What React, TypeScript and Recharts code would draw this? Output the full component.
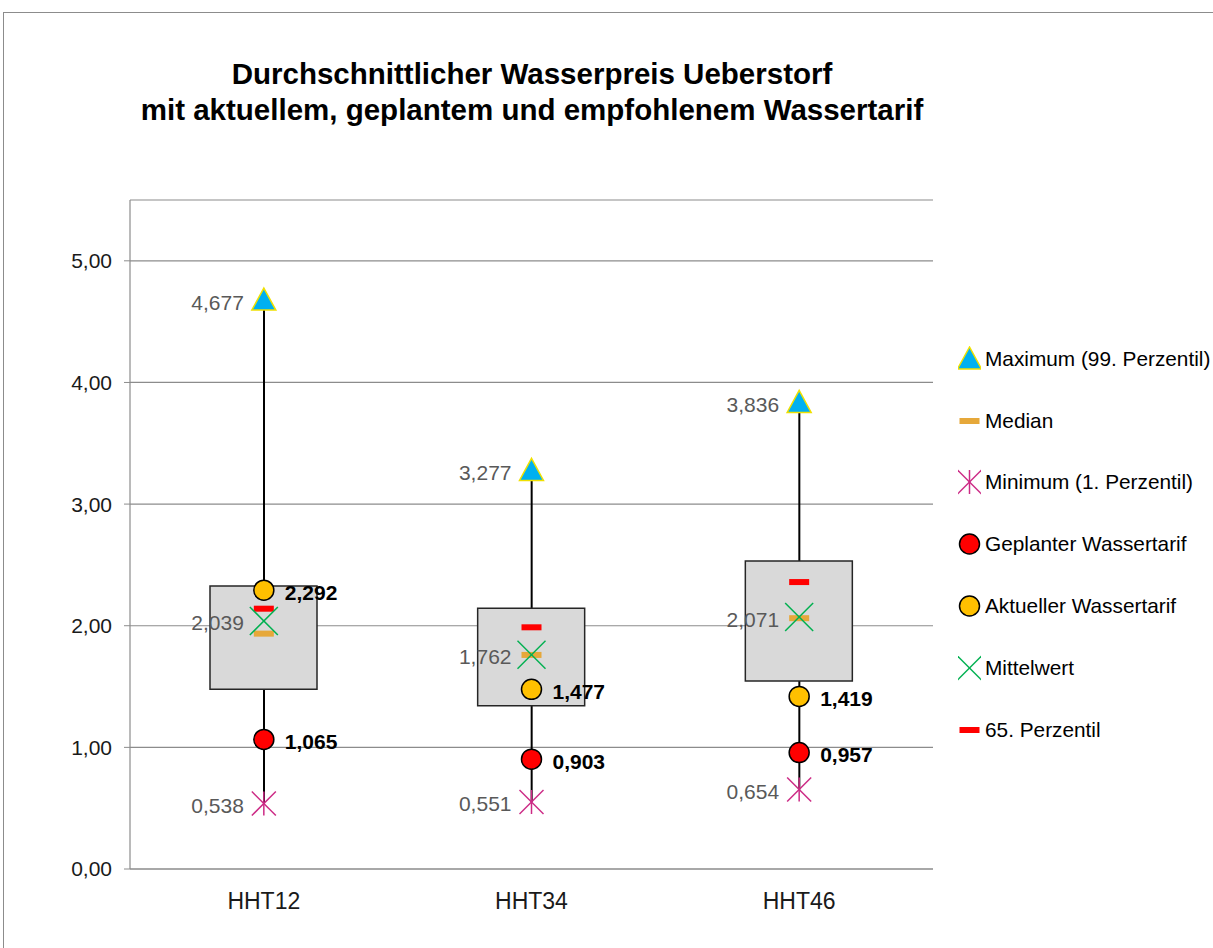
import React from 'react';
import { ComposedChart, Bar, Line, XAxis, YAxis, CartesianGrid } from 'recharts';

const categories = ['HHT12', 'HHT34', 'HHT46'];
const maxima = [4.677, 3.277, 3.836];
const minima = [0.538, 0.551, 0.654];
const means = [2.039, 1.762, 2.071];
const medians = [1.935, 1.76, 2.062];
const p65 = [2.14, 1.987, 2.359];
const q1 = [1.478, 1.343, 1.546];
const q3 = [2.327, 2.143, 2.533];
const planned = [1.065, 0.903, 0.957];
const current = [2.292, 1.477, 1.419];
const yTicks = [0, 1, 2, 3, 4, 5];

const FONT = '"Liberation Sans", Arial, sans-serif';
const GRID = '#8c8c8c';

const data = categories.map((cat, i) => ({
  cat,
  whisker: [minima[i], maxima[i]],
  box: [q1[i], q3[i]],
  max: maxima[i],
  min: minima[i],
  mean: means[i],
  median: medians[i],
  p65: p65[i],
  planned: planned[i],
  current: current[i],
}));

type Kind = 'max' | 'median' | 'min' | 'planned' | 'current' | 'mean' | 'p65';

const fmt = (v: number) => v.toFixed(3).replace('.', ',');

const Marker = ({ kind, cx, cy }: { kind: Kind; cx: number; cy: number }) => {
  switch (kind) {
    case 'max':
      return (
        <polygon
          points={`${cx},${cy - 12} ${cx - 12},${cy + 10} ${cx + 12},${cy + 10}`}
          fill="#00B0F0"
          stroke="#F0E000"
          strokeWidth={1.5}
        />
      );
    case 'median':
      return <rect x={cx - 10} y={cy - 3} width={20} height={6} fill="#E6A83A" />;
    case 'p65':
      return <rect x={cx - 10} y={cy - 3} width={20} height={6} fill="#FF0000" />;
    case 'mean':
      return (
        <g stroke="#00B050" strokeWidth={1.5}>
          <line x1={cx - 14} y1={cy - 14} x2={cx + 14} y2={cy + 14} />
          <line x1={cx - 14} y1={cy + 14} x2={cx + 14} y2={cy - 14} />
        </g>
      );
    case 'min':
      return (
        <g stroke="#CC2A85" strokeWidth={1.5}>
          <line x1={cx - 12} y1={cy - 12} x2={cx + 12} y2={cy + 12} />
          <line x1={cx - 12} y1={cy + 12} x2={cx + 12} y2={cy - 12} />
          <line x1={cx} y1={cy - 12} x2={cx} y2={cy + 12} />
        </g>
      );
    case 'planned':
      return <circle cx={cx} cy={cy} r={10} fill="#FF0000" stroke="#000" strokeWidth={1.5} />;
    case 'current':
      return <circle cx={cx} cy={cy} r={10} fill="#FFC000" stroke="#000" strokeWidth={1.5} />;
  }
  return null;
};

const LEFT_LABELS: Kind[] = ['max', 'mean', 'min'];
const RIGHT_LABELS: Kind[] = ['planned', 'current'];

const renderDot = (kind: Kind) => (p: any) => {
  const { cx, cy, value, index } = p;
  return (
    <g key={`${kind}-${index}`}>
      <Marker kind={kind} cx={cx} cy={cy} />
      {LEFT_LABELS.includes(kind) && (
        <text x={cx - 20} y={cy + 2} textAnchor="end" dominantBaseline="central" fontSize={21} fill="#595959">
          {fmt(value)}
        </text>
      )}
      {RIGHT_LABELS.includes(kind) && (
        <text x={cx + 21} y={cy + 2} textAnchor="start" dominantBaseline="central" fontSize={21} fontWeight="bold" fill="#000">
          {fmt(value)}
        </text>
      )}
    </g>
  );
};

const LEGEND: { kind: Kind; label: string }[] = [
  { kind: 'max', label: 'Maximum (99. Perzentil)' },
  { kind: 'median', label: 'Median' },
  { kind: 'min', label: 'Minimum (1. Perzentil)' },
  { kind: 'planned', label: 'Geplanter Wassertarif' },
  { kind: 'current', label: 'Aktueller Wassertarif' },
  { kind: 'mean', label: 'Mittelwert' },
  { kind: 'p65', label: '65. Perzentil' },
];

// marker layers, drawn after the box so they sit on top of it
const SERIES: Kind[] = ['median', 'p65', 'mean', 'min', 'max', 'planned', 'current'];

export default function App() {
  return (
    <div style={{ position: 'absolute', left: 0, top: 0, width: 1213, height: 948, overflow: 'hidden', background: '#fff', fontFamily: FONT }}>
      <div style={{ position: 'absolute', left: 3, top: 12, width: 1400, height: 1200, border: '1px solid #8c8c8c' }} />
      <div style={{ position: 'absolute', left: 0, top: 56, width: 1064, textAlign: 'center', fontWeight: 'bold', fontSize: 29.5, lineHeight: '36px', color: '#000' }}>
        Durchschnittlicher Wasserpreis Ueberstorf
        <br />
        mit aktuellem, geplantem und empfohlenem Wassertarif
      </div>
      <div style={{ position: 'absolute', left: 0, top: 0 }}>
        <ComposedChart width={1213} height={948} data={data} margin={{ top: 200, right: 280, bottom: 39, left: 60 }}>
          <CartesianGrid horizontal vertical={false} stroke={GRID} strokeWidth={1.2} />
          <XAxis
            xAxisId={0}
            dataKey="cat"
            tickLine={false}
            tickSize={0}
            tickMargin={24}
            axisLine={{ stroke: GRID, strokeWidth: 1.2 }}
            tick={{ fill: '#1a1a1a', fontSize: 23 }}
            height={40}
          />
          <XAxis xAxisId={1} dataKey="cat" hide />
          <YAxis
            domain={[0, 5.5]}
            ticks={yTicks}
            tickFormatter={(v: number) => v.toFixed(2).replace('.', ',')}
            axisLine={{ stroke: GRID, strokeWidth: 1.2 }}
            tickLine={{ stroke: GRID }}
            tickSize={6}
            tickMargin={12}
            tick={{ fill: '#1a1a1a', fontSize: 21 }}
            width={70}
          />
          <Bar xAxisId={1} dataKey="whisker" barSize={2} fill="#000" isAnimationActive={false} />
          <Bar xAxisId={0} dataKey="box" barSize={107} fill="#D9D9D9" stroke="#262626" strokeWidth={1.5} isAnimationActive={false} />
          {SERIES.map((k) => (
            <Line
              key={k}
              xAxisId={0}
              dataKey={k}
              stroke="none"
              dot={renderDot(k)}
              activeDot={false}
              isAnimationActive={false}
            />
          ))}
        </ComposedChart>
      </div>
      <div style={{ position: 'absolute', left: 958, top: 328, width: 300 }}>
        {LEGEND.map((item) => (
          <div key={item.kind} style={{ height: 61.8, display: 'flex', alignItems: 'center', whiteSpace: 'nowrap' }}>
            <svg width={23} height={26} style={{ flexShrink: 0 }}>
              <Marker kind={item.kind} cx={11.5} cy={13} />
            </svg>
            <span style={{ marginLeft: 4, fontSize: 20.8, color: '#000' }}>{item.label}</span>
          </div>
        ))}
      </div>
    </div>
  );
}
